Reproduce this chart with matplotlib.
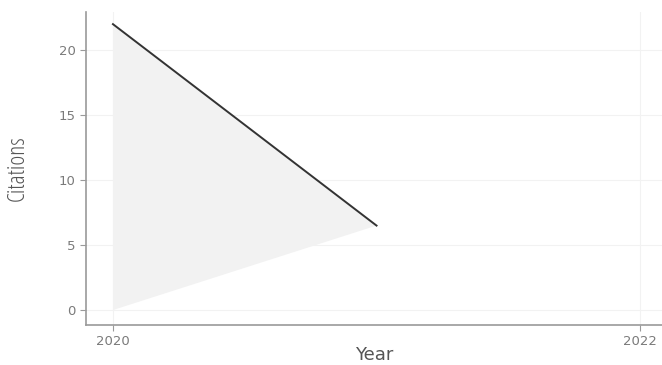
import matplotlib
matplotlib.use("Agg")
import matplotlib.pyplot as plt

# citations per year
years = [2020, 2021]
citations = [22, 6.5]
baseline = 0

x_ticks = [2020, 2022]
y_ticks = [0, 5, 10, 15, 20]

fig = plt.figure(figsize=(6.62, 3.65), dpi=100)
ax = fig.add_axes([0.130, 0.1096, 0.870, 0.857])

# shaded triangle between the line and the zero point of the first year
ax.fill(years + [years[0]], citations + [baseline], color="#f2f2f2", lw=0, zorder=1)
ax.plot(years, citations, color="#333333", lw=1.4, zorder=3)

ax.set_xlim(2019.898, 2022.083)
ax.set_ylim(-1.15, 22.92)
ax.set_xticks(x_ticks)
ax.set_xticklabels([str(x) for x in x_ticks])
ax.set_yticks(y_ticks)

for s in ["top", "right"]:
    ax.spines[s].set_visible(False)
for s in ["left", "bottom"]:
    ax.spines[s].set_color("#9a9a9a")
    ax.spines[s].set_linewidth(1.2)

ax.grid(True, color="#f2f2f2", lw=0.8, zorder=0)
ax.tick_params(colors="#9a9a9a", labelcolor="#7a7a7a", labelsize=9.5, length=4)
for lab in ax.get_xticklabels() + ax.get_yticklabels():
    lab.set_family("DejaVu Sans")

ax.set_xlabel("Year", fontsize=13, color="#555555", labelpad=-2,
              family="DejaVu Sans")
ax.set_ylabel("Citations", fontsize=17, color="#555555", labelpad=21,
              family="Open Sans", fontstretch="condensed")

fig.savefig("out.png", dpi=100)
